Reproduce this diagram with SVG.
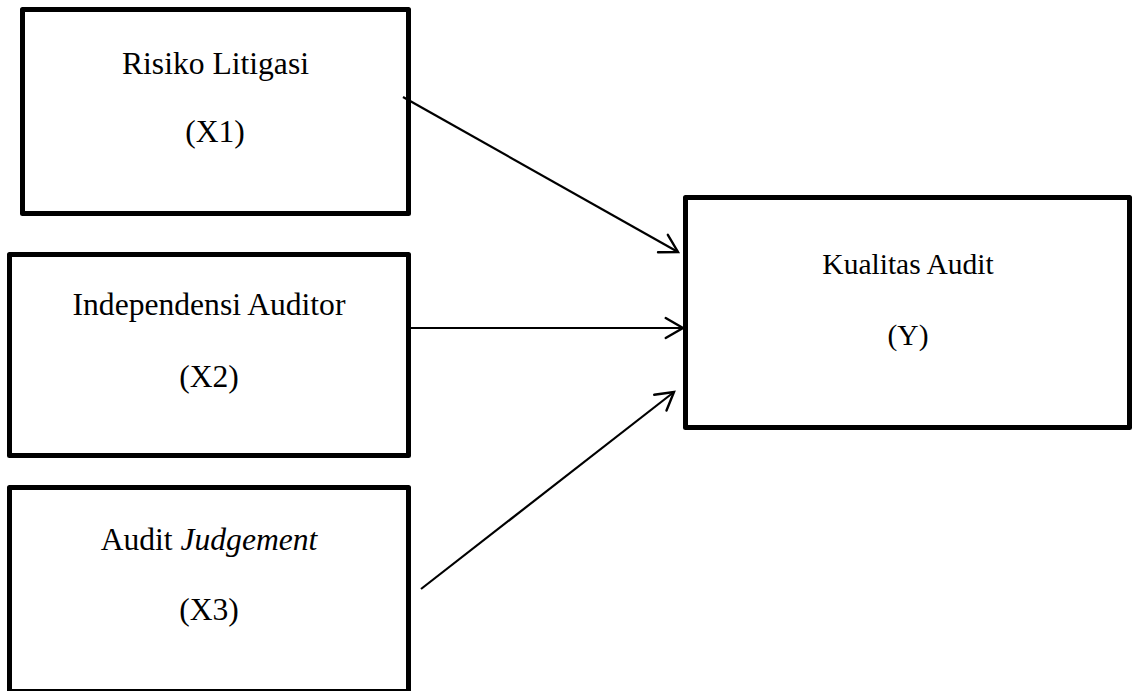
<svg xmlns="http://www.w3.org/2000/svg" width="1139" height="691" viewBox="0 0 1139 691">
<style>
.box{fill:#fff;stroke:#000;stroke-width:5;stroke-linejoin:round}
.t{font-family:"Liberation Serif","Times New Roman",serif;font-size:31.6px;fill:#000;text-anchor:middle}
.ty{font-family:"Liberation Serif","Times New Roman",serif;font-size:29.5px;fill:#000;text-anchor:middle}
.c{stroke:#000;stroke-width:2.2;fill:none}
</style>
<defs>
<marker id="ah" markerUnits="userSpaceOnUse" markerWidth="24" markerHeight="24" viewBox="-20 -12 24 24" refX="0" refY="0" orient="auto">
<path d="M-17.3,-10 L0,0 L-17.3,10" fill="none" stroke="#000" stroke-width="2.4" stroke-linecap="round" stroke-linejoin="miter"/>
</marker>
</defs>
<rect width="1139" height="691" fill="#fff"/>
<g id="node-x1">
<rect class="box" x="22.5" y="9.5" width="386" height="204"/>
<text class="t" x="215.5" y="74">Risiko Litigasi</text>
<text class="t" x="215" y="142">(X1)</text>
</g>
<g id="node-x2">
<rect class="box" x="9.5" y="254.5" width="399" height="201"/>
<text class="t" x="209" y="315">Independensi Auditor</text>
<text class="t" x="209" y="387">(X2)</text>
</g>
<g id="node-x3">
<rect class="box" x="9.5" y="487.5" width="399" height="204"/>
<text class="t" x="209" y="550">Audit <tspan font-style="italic">Judgement</tspan></text>
<text class="t" x="209" y="620">(X3)</text>
</g>
<g id="node-y">
<rect class="box" x="685.5" y="197.5" width="444" height="230"/>
<text class="ty" x="908" y="274">Kualitas Audit</text>
<text class="ty" x="908" y="345">(Y)</text>
</g>
<g id="connectors">
<line class="c" x1="403" y1="97" x2="678" y2="252" marker-end="url(#ah)"/>
<line class="c" x1="411" y1="328" x2="683" y2="328" marker-end="url(#ah)"/>
<line class="c" x1="421" y1="589" x2="674" y2="392" marker-end="url(#ah)"/>
</g>
</svg>
